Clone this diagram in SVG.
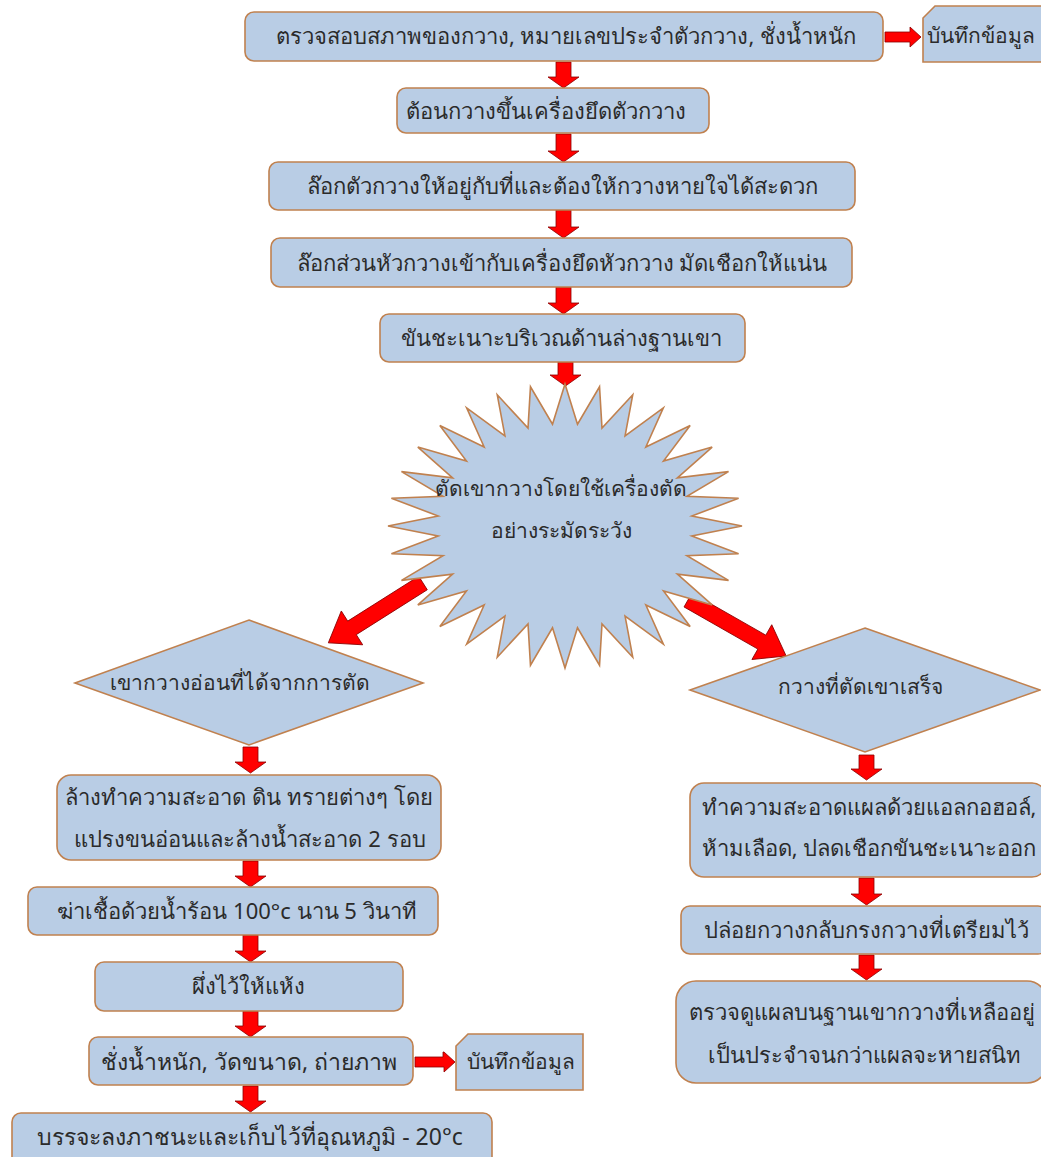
<svg xmlns="http://www.w3.org/2000/svg" width="1041" height="1157" viewBox="0 0 1041 1157">
<style>
.box{fill:#b9cde5;stroke:#c0814f;stroke-width:1.6}
.arr{fill:#ff0000;stroke:#8a0000;stroke-width:0.8}
.t{font-family:"Noto Sans","DejaVu Sans",sans-serif;font-size:22px;fill:#2b2b2b;text-anchor:middle;dominant-baseline:central}
.s{font-size:21px}
.b{font-size:23px}
</style>
<rect width="1041" height="1157" fill="#ffffff"/>
<g id="connectors">
<path class="arr" d="M885,32 H910 V27 L921,37 L910,47 V42 H885 Z"/>
<path class="arr" d="M556,62 H571 V77 H579 L563.5,88 L548,77 H556 Z"/>
<path class="arr" d="M556,134 H571 V151 H579 L563.5,162 L548,151 H556 Z"/>
<path class="arr" d="M556,210 H571 V227 H579 L563.5,238 L548,227 H556 Z"/>
<path class="arr" d="M556,287 H571 V303 H579 L563.5,314 L548,303 H556 Z"/>
<path class="arr" d="M558,362 H573 V375 H581 L565.5,386 L550,375 H558 Z"/>
<path class="arr" transform="translate(423,583) rotate(147.7)" d="M0,-8 H84 V-20 L112,0 L84,20 V8 H0 Z"/>
<path class="arr" transform="translate(688,600) rotate(29.7)" d="M0,-8 H85 V-20 L113,0 L85,20 V8 H0 Z"/>
<path class="arr" d="M243,747 H258 V762 H266 L250.5,773 L235,762 H243 Z"/>
<path class="arr" d="M243,861 H258 V876 H266 L250.5,887 L235,876 H243 Z"/>
<path class="arr" d="M243,935 H258 V951 H266 L250.5,962 L235,951 H243 Z"/>
<path class="arr" d="M243,1011 H258 V1026 H266 L250.5,1037 L235,1026 H243 Z"/>
<path class="arr" d="M415,1057 H443 V1052 H444 L455,1062 L444,1072 V1067 H415 Z"/>
<path class="arr" d="M243,1086 H258 V1101 H266 L250.5,1112 L235,1101 H243 Z"/>
<path class="arr" d="M859,755 H874 V769 H882 L866.5,780 L851,769 H859 Z"/>
<path class="arr" d="M859,878 H874 V894 H882 L866.5,905 L851,894 H859 Z"/>
<path class="arr" d="M859,955 H874 V969 H882 L866.5,980 L851,969 H859 Z"/>
</g>
<g id="n1"><rect class="box" x="245" y="12" width="638" height="49" rx="9"/><text class="t" x="566" y="35">ตรวจสอบสภาพของกวาง, หมายเลขประจำตัวกวาง, ชั่งน้ำหนัก</text></g>
<g id="note1"><path class="box" d="M935,6 H1045 V62 H923 V18 Z"/><text class="t s" x="927" y="35" style="text-anchor:start">บันทึกข้อมูล</text></g>
<g id="n2"><rect class="box" x="397" y="88" width="312" height="45" rx="9"/><text class="t" x="546" y="110">ต้อนกวางขึ้นเครื่องยึดตัวกวาง</text></g>
<g id="n3"><rect class="box" x="269" y="162" width="586" height="48" rx="9"/><text class="t" x="562" y="185">ล๊อกตัวกวางให้อยู่กับที่และต้องให้กวางหายใจได้สะดวก</text></g>
<g id="n4"><rect class="box" x="271" y="238" width="581" height="49" rx="9"/><text class="t" x="562" y="262">ล๊อกส่วนหัวกวางเข้ากับเครื่องยึดหัวกวาง มัดเชือกให้แน่น</text></g>
<g id="n5"><rect class="box" x="380" y="314" width="365" height="48" rx="9"/><text class="t" x="561" y="337">ขันชะเนาะบริเวณด้านล่างฐานเขา</text></g>
<g id="star">
<polygon class="box" vector-effect="non-scaling-stroke" transform="translate(565,526) scale(1.77,1.42)" points="0,-100 7.06,-71.65 19.51,-98.08 20.90,-68.90 38.27,-92.39 33.94,-63.50 55.56,-83.15 45.68,-55.66 70.71,-70.71 55.66,-45.68 83.15,-55.56 63.50,-33.94 92.39,-38.27 68.90,-20.90 98.08,-19.51 71.65,-7.06 100,0 71.65,7.06 98.08,19.51 68.90,20.90 92.39,38.27 63.50,33.94 83.15,55.56 55.66,45.68 70.71,70.71 45.68,55.66 55.56,83.15 33.94,63.50 38.27,92.39 20.90,68.90 19.51,98.08 7.06,71.65 0,100 -7.06,71.65 -19.51,98.08 -20.90,68.90 -38.27,92.39 -33.94,63.50 -55.56,83.15 -45.68,55.66 -70.71,70.71 -55.66,45.68 -83.15,55.56 -63.50,33.94 -92.39,38.27 -68.90,20.90 -98.08,19.51 -71.65,7.06 -100,0 -71.65,-7.06 -98.08,-19.51 -68.90,-20.90 -92.39,-38.27 -63.50,-33.94 -83.15,-55.56 -55.66,-45.68 -70.71,-70.71 -45.68,-55.66 -55.56,-83.15 -33.94,-63.50 -38.27,-92.39 -20.90,-68.90 -19.51,-98.08 -7.06,-71.65"/>
<text class="t s" x="561" y="488">ตัดเขากวางโดยใช้เครื่องตัด</text>
<text class="t s" x="561" y="530">อย่างระมัดระวัง</text>
</g>
<g id="d1"><polygon class="box" points="249,620 423,683 249,745 75,683"/><text class="t s" x="240" y="682">เขากวางอ่อนที่ได้จากการตัด</text></g>
<g id="d2"><polygon class="box" points="865,628 1040,690 865,752 690,690"/><text class="t s" x="860" y="686">กวางที่ตัดเขาเสร็จ</text></g>
<g id="l1"><rect class="box" x="57" y="775" width="384" height="85" rx="14"/><text class="t" x="249" y="796">ล้างทำความสะอาด ดิน ทรายต่างๆ โดย</text><text class="t" x="250" y="838">แปรงขนอ่อนและล้างน้ำสะอาด 2 รอบ</text></g>
<g id="l2"><rect class="box" x="28" y="887" width="410" height="48" rx="9"/><text class="t" x="237" y="910">ฆ่าเชื้อด้วยน้ำร้อน 100°c นาน 5 วินาที</text></g>
<g id="l3"><rect class="box" x="95" y="962" width="308" height="49" rx="9"/><text class="t" x="248" y="985">ผึ่งไว้ให้แห้ง</text></g>
<g id="l4"><rect class="box" x="89" y="1037" width="324" height="48" rx="9"/><text class="t b" x="249" y="1061">ชั่งน้ำหนัก, วัดขนาด, ถ่ายภาพ</text></g>
<g id="note2"><path class="box" d="M468,1034 H583 V1090 H456 V1046 Z"/><text class="t s" x="521" y="1061">บันทึกข้อมูล</text></g>
<g id="l5"><rect class="box" x="12" y="1113" width="480" height="60" rx="9"/><text class="t b" x="250" y="1136">บรรจะลงภาชนะและเก็บไว้ที่อุณหภูมิ - 20°c</text></g>
<g id="r1"><rect class="box" x="690" y="783" width="356" height="94" rx="14"/><text class="t" x="869" y="806">ทำความสะอาดแผลด้วยแอลกอฮอล์,</text><text class="t" x="869" y="847">ห้ามเลือด, ปลดเชือกขันชะเนาะออก</text></g>
<g id="r2"><rect class="box" x="681" y="906" width="366" height="48" rx="9"/><text class="t" x="866" y="929">ปล่อยกวางกลับกรงกวางที่เตรียมไว้</text></g>
<g id="r3"><rect class="box" x="676" y="981" width="371" height="102" rx="20"/><text class="t" x="862" y="1011">ตรวจดูแผลบนฐานเขากวางที่เหลืออยู่</text><text class="t" x="864" y="1054">เป็นประจำจนกว่าแผลจะหายสนิท</text></g>
</svg>
